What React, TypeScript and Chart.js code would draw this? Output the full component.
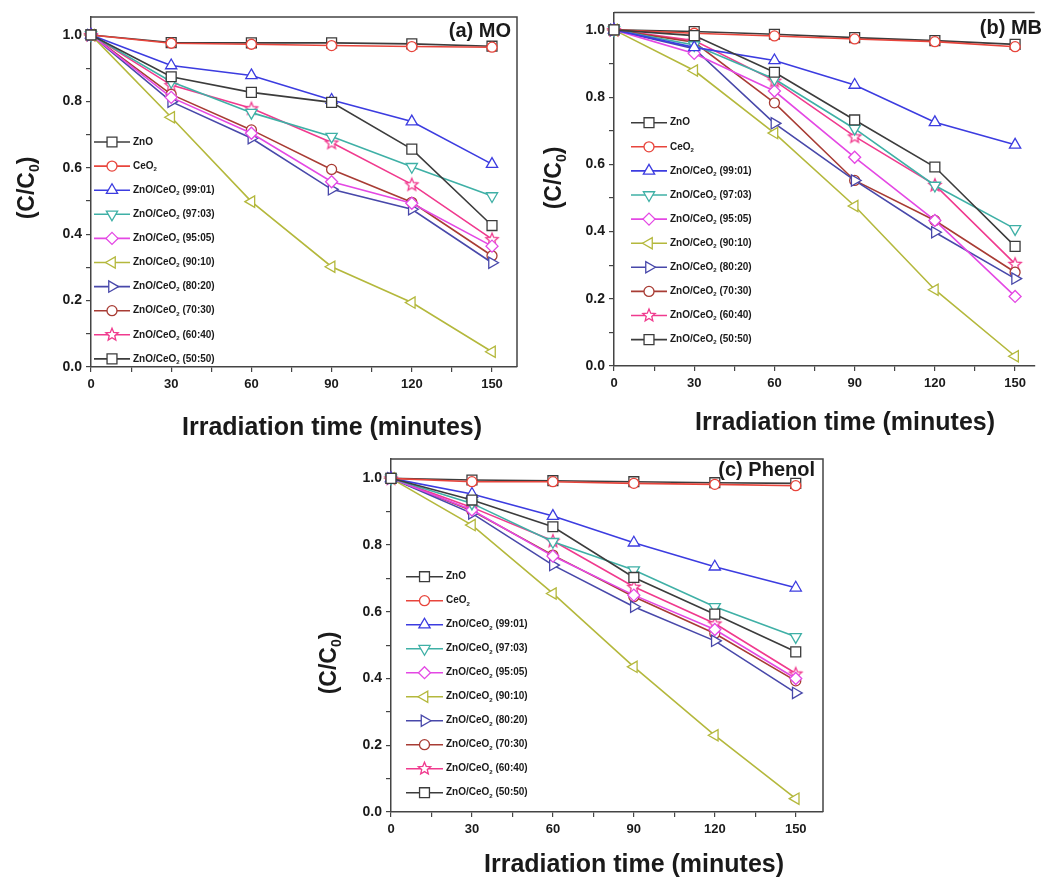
import React, { useEffect, useRef } from 'react';
import { Chart, registerables } from 'chart.js';

Chart.register(...registerables);

// ---------- data ----------
const TIME_MIN = [0, 30, 60, 90, 120, 150];

const SERIES_LABELS = [
  'ZnO',
  'CeO2',
  'ZnO/CeO2 (99:01)',
  'ZnO/CeO2 (97:03)',
  'ZnO/CeO2 (95:05)',
  'ZnO/CeO2 (90:10)',
  'ZnO/CeO2 (80:20)',
  'ZnO/CeO2 (70:30)',
  'ZnO/CeO2 (60:40)',
  'ZnO/CeO2 (50:50)',
];

const X_TICK_LABELS = [0, 30, 60, 90, 120, 150];
const Y_TICK_LABELS = [0.0, 0.2, 0.4, 0.6, 0.8, 1.0];

// (a) MO
const MO_ZNO = [1.0, 0.874, 0.827, 0.797, 0.656, 0.426];
const MO_CEO2 = [1.0, 0.975, 0.972, 0.968, 0.965, 0.963];
const MO_9901 = [1.0, 0.908, 0.878, 0.804, 0.739, 0.611];
const MO_9703 = [1.0, 0.859, 0.766, 0.694, 0.603, 0.515];
const MO_9505 = [1.0, 0.812, 0.704, 0.558, 0.493, 0.364];
const MO_9010 = [1.0, 0.752, 0.498, 0.302, 0.194, 0.046];
const MO_8020 = [1.0, 0.799, 0.689, 0.535, 0.475, 0.314];
const MO_7030 = [1.0, 0.821, 0.714, 0.595, 0.496, 0.335];
const MO_6040 = [1.0, 0.849, 0.779, 0.676, 0.550, 0.385];
const MO_5050 = [1.0, 0.977, 0.976, 0.976, 0.973, 0.966];

// (b) MB
const MB_ZNO = [1.0, 0.983, 0.874, 0.732, 0.592, 0.356];
const MB_CEO2 = [1.0, 0.990, 0.982, 0.973, 0.965, 0.950];
const MB_9901 = [1.0, 0.948, 0.909, 0.836, 0.725, 0.658];
const MB_9703 = [1.0, 0.955, 0.854, 0.706, 0.537, 0.408];
const MB_9505 = [1.0, 0.930, 0.818, 0.621, 0.433, 0.207];
const MB_9010 = [1.0, 0.879, 0.693, 0.476, 0.227, 0.029];
const MB_8020 = [1.0, 0.944, 0.722, 0.552, 0.398, 0.260];
const MB_7030 = [1.0, 0.963, 0.783, 0.552, 0.433, 0.279];
const MB_6040 = [1.0, 0.968, 0.849, 0.683, 0.539, 0.304];
const MB_5050 = [1.0, 0.995, 0.987, 0.977, 0.968, 0.957];

// (c) Phenol
const PH_ZNO = [1.0, 0.935, 0.855, 0.703, 0.593, 0.480];
const PH_CEO2 = [1.0, 0.990, 0.990, 0.985, 0.982, 0.978];
const PH_9901 = [1.0, 0.953, 0.887, 0.807, 0.735, 0.672];
const PH_9703 = [1.0, 0.925, 0.810, 0.725, 0.615, 0.525];
const PH_9505 = [1.0, 0.905, 0.767, 0.650, 0.547, 0.400];
const PH_9010 = [1.0, 0.860, 0.655, 0.435, 0.230, 0.040];
const PH_8020 = [1.0, 0.895, 0.740, 0.615, 0.513, 0.357];
const PH_7030 = [1.0, 0.903, 0.770, 0.645, 0.535, 0.393];
const PH_6040 = [1.0, 0.913, 0.813, 0.675, 0.565, 0.415];
const PH_5050 = [1.0, 0.995, 0.993, 0.990, 0.987, 0.985];

const MO_SERIES = [MO_ZNO, MO_CEO2, MO_9901, MO_9703, MO_9505, MO_9010, MO_8020, MO_7030, MO_6040, MO_5050];
const MB_SERIES = [MB_ZNO, MB_CEO2, MB_9901, MB_9703, MB_9505, MB_9010, MB_8020, MB_7030, MB_6040, MB_5050];
const PH_SERIES = [PH_ZNO, PH_CEO2, PH_9901, PH_9703, PH_9505, PH_9010, PH_8020, PH_7030, PH_6040, PH_5050];

// ---------- styles ----------
const FONT = "'Liberation Sans', Arial, Helvetica, sans-serif";

type Shape = 'rect' | 'circle' | 'triangle' | 'rectRot' | 'star';
const STYLES: { color: string; shape: Shape; r: number; rot: number }[] = [
  { color: '#3c3c3c', shape: 'rect', r: 7, rot: 0 },
  { color: '#e8453c', shape: 'circle', r: 5, rot: 0 },
  { color: '#3c3ce0', shape: 'triangle', r: 6.5, rot: 0 },
  { color: '#3fb0a6', shape: 'triangle', r: 6.5, rot: 180 },
  { color: '#e448e4', shape: 'rectRot', r: 6, rot: 0 },
  { color: '#b4b83c', shape: 'triangle', r: 6.5, rot: 270 },
  { color: '#4848aa', shape: 'triangle', r: 6.5, rot: 90 },
  { color: '#a83c34', shape: 'circle', r: 5, rot: 0 },
  { color: '#f03a8e', shape: 'star', r: 6.5, rot: 0 },
  { color: '#3c3c3c', shape: 'rect', r: 7, rot: 0 },
];

function pathShape(ctx: CanvasRenderingContext2D, shape: Shape, x: number, y: number, r: number, rot: number) {
  ctx.beginPath();
  if (shape === 'circle') {
    ctx.arc(x, y, r, 0, Math.PI * 2);
  } else if (shape === 'rect') {
    const h = r * Math.SQRT1_2;
    ctx.rect(x - h, y - h, 2 * h, 2 * h);
  } else if (shape === 'rectRot') {
    ctx.moveTo(x, y - r);
    ctx.lineTo(x + r, y);
    ctx.lineTo(x, y + r);
    ctx.lineTo(x - r, y);
    ctx.closePath();
  } else if (shape === 'triangle') {
    let a = (rot * Math.PI) / 180;
    ctx.moveTo(x + Math.sin(a) * r, y - Math.cos(a) * r);
    a += (2 * Math.PI) / 3;
    ctx.lineTo(x + Math.sin(a) * r, y - Math.cos(a) * r);
    a += (2 * Math.PI) / 3;
    ctx.lineTo(x + Math.sin(a) * r, y - Math.cos(a) * r);
    ctx.closePath();
  } else if (shape === 'star') {
    const inner = r * 0.45;
    for (let i = 0; i < 10; i++) {
      const rr = i % 2 === 0 ? r : inner;
      const a = (i * Math.PI) / 5;
      const px = x + Math.sin(a) * rr;
      const py = y - Math.cos(a) * rr;
      if (i === 0) ctx.moveTo(px, py);
      else ctx.lineTo(px, py);
    }
    ctx.closePath();
  }
}

function drawMarker(ctx: CanvasRenderingContext2D, idx: number, x: number, y: number) {
  const s = STYLES[idx];
  pathShape(ctx, s.shape, x, y, s.r, s.rot);
  ctx.fillStyle = '#ffffff';
  ctx.fill();
  ctx.lineWidth = 1.3;
  ctx.strokeStyle = s.color;
  ctx.stroke();
}

let starCanvas: HTMLCanvasElement | null = null;
function getStarCanvas(): HTMLCanvasElement {
  if (starCanvas) return starCanvas;
  const c = document.createElement('canvas');
  c.width = 18;
  c.height = 18;
  const ctx = c.getContext('2d')!;
  drawMarker(ctx, 8, 9, 9.5);
  starCanvas = c;
  return c;
}

// ---------- rich text ----------
type Seg = [string, boolean];
function labelSegs(label: string): Seg[] {
  const parts = label.split('CeO2');
  const segs: Seg[] = [];
  parts.forEach((p, i) => {
    if (i > 0) {
      segs.push(['CeO', false]);
      segs.push(['2', true]);
    }
    if (p) segs.push([p, false]);
  });
  return segs;
}

function drawRich(
  ctx: CanvasRenderingContext2D,
  segs: Seg[],
  x: number,
  y: number,
  size: number,
  align: 'left' | 'center' | 'right',
  rotation = 0
) {
  const main = `bold ${size}px ${FONT}`;
  const sub = `bold ${Math.round(size * 0.62)}px ${FONT}`;
  const widths = segs.map(([t, s]) => {
    ctx.font = s ? sub : main;
    return ctx.measureText(t).width;
  });
  const total = widths.reduce((a, b) => a + b, 0);
  ctx.save();
  ctx.translate(x, y);
  ctx.rotate(rotation);
  let cx = align === 'left' ? 0 : align === 'center' ? -total / 2 : -total;
  ctx.textAlign = 'left';
  ctx.textBaseline = 'middle';
  ctx.fillStyle = '#1a1a1a';
  segs.forEach(([t, s], i) => {
    ctx.font = s ? sub : main;
    ctx.fillText(t, cx, s ? size * 0.32 : 0);
    cx += widths[i];
  });
  ctx.restore();
}

// ---------- panels ----------
type PanelCfg = {
  key: string;
  series: number[][];
  left: number;
  top: number;
  w: number;
  h: number;
  chartLeft: number;
  chartTop: number;
  chartRight: number;
  chartBottom: number;
  xMax: number;
  yMax: number;
  rightFrame: boolean;
  label: string;
  labelPos: [number, number];
  yTitlePos: [number, number];
  xTitlePos: [number, number];
  legend: { x1: number; x2: number; mx: number; tx: number; y0: number; dy: number };
};

const PANELS: PanelCfg[] = [
  {
    key: 'a',
    series: MO_SERIES,
    left: 0,
    top: 0,
    w: 540,
    h: 450,
    chartLeft: 91,
    chartTop: 17,
    chartRight: 517,
    chartBottom: 367,
    xMax: 159.35,
    yMax: 1.054,
    rightFrame: true,
    label: '(a) MO',
    labelPos: [511, 31],
    yTitlePos: [28, 188],
    xTitlePos: [332, 428],
    legend: { x1: 94, x2: 130, mx: 112, tx: 133, y0: 142, dy: 24.1 },
  },
  {
    key: 'b',
    series: MB_SERIES,
    left: 540,
    top: 0,
    w: 503,
    h: 450,
    chartLeft: 74,
    chartTop: 12,
    chartRight: 503,
    chartBottom: 366,
    xMax: 157.33,
    yMax: 1.052,
    rightFrame: false,
    label: '(b) MB',
    labelPos: [502, 28],
    yTitlePos: [15, 178],
    xTitlePos: [305, 423],
    legend: { x1: 91, x2: 127, mx: 109, tx: 130, y0: 122.7, dy: 24.1 },
  },
  {
    key: 'c',
    series: PH_SERIES,
    left: 300,
    top: 440,
    w: 540,
    h: 444,
    chartLeft: 91,
    chartTop: 19,
    chartRight: 523,
    chartBottom: 372,
    xMax: 160.1,
    yMax: 1.058,
    rightFrame: true,
    label: '(c) Phenol',
    labelPos: [515, 30],
    yTitlePos: [30, 223],
    xTitlePos: [334, 425],
    legend: { x1: 106, x2: 143, mx: 124.5, tx: 146, y0: 136.7, dy: 24 },
  },
];

function makeDecorPlugin(p: PanelCfg) {
  return {
    id: 'decor_' + p.key,
    afterDraw(chart: any) {
      const ctx: CanvasRenderingContext2D = chart.ctx;
      const a = chart.chartArea;
      ctx.save();
      // frame (top / right)
      ctx.strokeStyle = '#444';
      ctx.lineWidth = 1.5;
      ctx.beginPath();
      ctx.moveTo(a.left, a.top);
      ctx.lineTo(a.right, a.top);
      if (p.rightFrame) ctx.lineTo(a.right, a.bottom);
      ctx.stroke();

      // legend
      const L = p.legend;
      SERIES_LABELS.forEach((lab, i) => {
        const y = L.y0 + i * L.dy;
        ctx.beginPath();
        ctx.moveTo(L.x1, y);
        ctx.lineTo(L.x2, y);
        ctx.lineWidth = 1.6;
        ctx.strokeStyle = STYLES[i].color;
        ctx.stroke();
        drawMarker(ctx, i, L.mx, y);
        drawRich(ctx, labelSegs(lab), L.tx, y, 10, 'left');
      });

      // panel label
      drawRich(ctx, [[p.label, false]], p.labelPos[0], p.labelPos[1], 20, 'right');
      // axis titles
      drawRich(ctx, [['(C/C', false], ['0', true], [')', false]], p.yTitlePos[0], p.yTitlePos[1], 23, 'center', -Math.PI / 2);
      drawRich(ctx, [['Irradiation time (minutes)', false]], p.xTitlePos[0], p.xTitlePos[1], 25, 'center');
      ctx.restore();
    },
  };
}

function Panel({ p }: { p: PanelCfg }) {
  const ref = useRef<HTMLCanvasElement>(null);
  useEffect(() => {
    const canvas = ref.current!;
    const datasets = p.series.map((vals, i) => {
      const s = STYLES[i];
      return {
        label: SERIES_LABELS[i],
        data: TIME_MIN.map((t, j) => ({ x: t, y: vals[j] })),
        borderColor: s.color,
        borderWidth: 1.6,
        pointStyle: s.shape === 'star' ? (getStarCanvas() as any) : s.shape,
        rotation: s.rot,
        pointRadius: s.r,
        pointBorderWidth: 1.3,
        pointBorderColor: s.color,
        pointBackgroundColor: '#ffffff',
        tension: 0,
        fill: false,
        clip: false,
      };
    });
    const chart = new Chart(canvas, {
      type: 'line',
      data: { datasets },
      options: {
        responsive: false,
        animation: false,
        devicePixelRatio: 1,
        layout: {
          padding: {
            left: 0,
            top: p.chartTop,
            right: p.w - p.chartRight,
            bottom: 0,
          },
        },
        plugins: {
          legend: { display: false },
          tooltip: { enabled: false },
          title: { display: false },
        },
        scales: {
          x: {
            type: 'linear',
            min: 0,
            max: p.xMax,
            afterFit: (s: any) => {
              s.height = p.h - p.chartBottom;
            },
            ticks: {
              stepSize: 15,
              includeBounds: false,
              autoSkip: false,
              maxRotation: 0,
              padding: 5,
              color: '#1a1a1a',
              font: { family: FONT, size: 13, weight: 'bold' },
              callback: (v: any) => (X_TICK_LABELS.includes(Number(v)) ? String(v) : ''),
            },
            grid: {
              drawOnChartArea: false,
              drawTicks: true,
              tickLength: 5,
              color: '#444',
              lineWidth: 1.2,
            },
            border: { display: true, color: '#444', width: 1.5 },
          },
          y: {
            type: 'linear',
            min: 0,
            max: p.yMax,
            afterFit: (s: any) => {
              s.width = p.chartLeft;
            },
            ticks: {
              stepSize: 0.1,
              includeBounds: false,
              autoSkip: false,
              padding: 4,
              color: '#1a1a1a',
              font: { family: FONT, size: 14, weight: 'bold' },
              callback: (v: any) => {
                const n = Math.round(Number(v) * 10) / 10;
                return Y_TICK_LABELS.some((t) => Math.abs(t - n) < 1e-6) ? n.toFixed(1) : '';
              },
            },
            grid: {
              drawOnChartArea: false,
              drawTicks: true,
              tickLength: 5,
              color: '#444',
              lineWidth: 1.2,
            },
            border: { display: true, color: '#444', width: 1.5 },
          },
        },
      },
      plugins: [makeDecorPlugin(p)],
    } as any);
    return () => chart.destroy();
  }, [p]);
  return (
    <canvas
      ref={ref}
      width={p.w}
      height={p.h}
      style={{ position: 'absolute', left: p.left, top: p.top, width: p.w, height: p.h }}
    />
  );
}

export default function App() {
  return (
    <div
      style={{
        position: 'absolute',
        left: 0,
        top: 0,
        width: 1043,
        height: 884,
        background: '#ffffff',
        overflow: 'hidden',
      }}
    >
      {PANELS.map((p) => (
        <Panel key={p.key} p={p} />
      ))}
    </div>
  );
}
